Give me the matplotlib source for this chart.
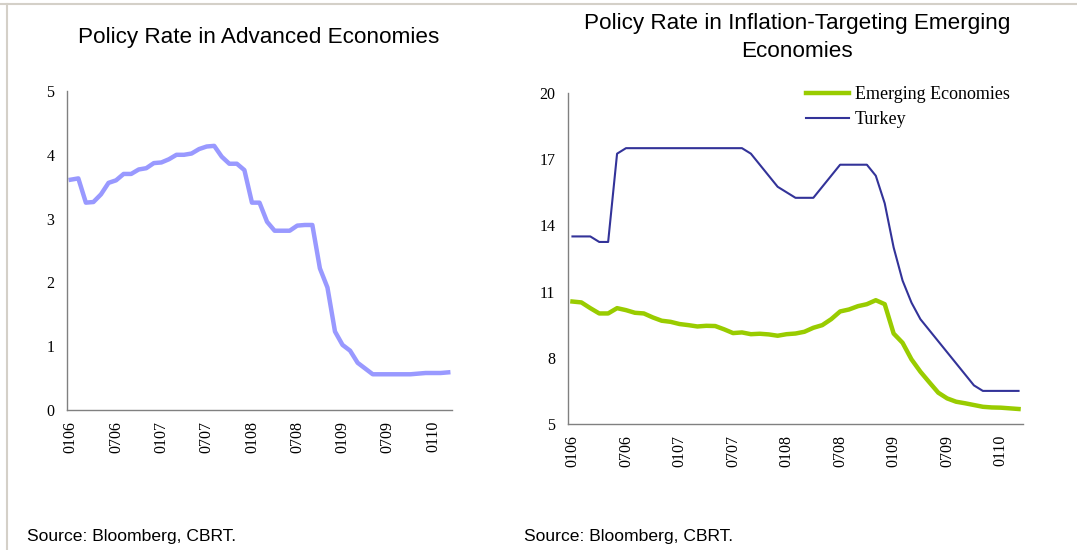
import matplotlib
matplotlib.use('Agg')
import matplotlib.pyplot as plt
from matplotlib.lines import Line2D
import numpy as np

# monthly data, Jan 2006 - Mar 2010
advanced = [3.61, 3.63, 3.25, 3.26, 3.38, 3.56, 3.60, 3.70, 3.70, 3.77,
            3.79, 3.87, 3.88, 3.93, 4.00, 4.00, 4.02, 4.09, 4.13, 4.14,
            3.97, 3.86, 3.86, 3.76, 3.25, 3.25, 2.95, 2.81, 2.81, 2.81,
            2.89, 2.90, 2.90, 2.22, 1.92, 1.23, 1.02, 0.93, 0.74, 0.65,
            0.56, 0.56, 0.56, 0.56, 0.56, 0.56, 0.57, 0.58, 0.58, 0.58, 0.59]

emerging = [10.55, 10.51, 10.25, 10.01, 10.01, 10.25, 10.16, 10.04, 10.01, 9.83,
            9.68, 9.63, 9.53, 9.48, 9.42, 9.45, 9.44, 9.29, 9.12, 9.15,
            9.07, 9.09, 9.06, 9.00, 9.07, 9.10, 9.18, 9.36, 9.48, 9.75,
            10.10, 10.19, 10.34, 10.43, 10.61, 10.43, 9.10, 8.68, 7.93, 7.37,
            6.89, 6.42, 6.16, 6.01, 5.94, 5.86, 5.78, 5.75, 5.74, 5.71, 5.68]

turkey = [13.5, 13.5, 13.5, 13.25, 13.25, 17.25, 17.5, 17.5, 17.5, 17.5,
          17.5, 17.5, 17.5, 17.5, 17.5, 17.5, 17.5, 17.5, 17.5, 17.5,
          17.25, 16.75, 16.25, 15.75, 15.5, 15.25, 15.25, 15.25, 15.75, 16.25,
          16.75, 16.75, 16.75, 16.75, 16.25, 15.0, 13.0, 11.5, 10.5, 9.75,
          9.25, 8.75, 8.25, 7.75, 7.25, 6.75, 6.5, 6.5, 6.5, 6.5, 6.5]

tick_labels = ['0106', '0706', '0107', '0707', '0108', '0708', '0109', '0709', '0110']
source = 'Source: Bloomberg, CBRT.'

W, H = 1077, 550
fig = plt.figure(figsize=(W / 100, H / 100), dpi=100)

serif = 'Liberation Serif'
sans = 'Liberation Sans'


def px_axes(x0, x1, y0, y1):
    # y0 = top, y1 = bottom, in pixels from the top
    return fig.add_axes([x0 / W, 1 - y1 / H, (x1 - x0) / W, (y1 - y0) / H])


def style(ax, ymin, ymax, step):
    x = np.arange(len(advanced))
    ax.set_xlim(-0.5, len(x) - 0.5)
    ax.set_ylim(ymin, ymax)
    ax.set_yticks(np.arange(ymin, ymax + 0.1, step))
    ax.set_xticks(x[::6])
    ax.set_xticklabels(tick_labels, rotation=90, fontfamily=serif, fontsize=11.5)
    for lab in ax.get_yticklabels():
        lab.set_fontfamily(serif)
        lab.set_fontsize(11.5)
    ax.tick_params(length=0, pad=8)
    ax.tick_params(axis='y', pad=9)
    for s in ['top', 'right']:
        ax.spines[s].set_visible(False)
    for s in ['left', 'bottom']:
        ax.spines[s].set_color('#808080')
        ax.spines[s].set_linewidth(1.0)


x = np.arange(len(advanced))

ax1 = px_axes(67, 452, 91, 410)
ax1.plot(x, advanced, color='#9999FF', lw=3.2, solid_joinstyle='round')
style(ax1, 0, 5, 1)

ax2 = px_axes(568, 1023, 93, 424)
ax2.plot(x, emerging, color='#99CC00', lw=3.2, label='Emerging Economies')
ax2.plot(x, turkey, color='#333399', lw=1.5, label='Turkey')
style(ax2, 5, 20, 3)
ax2.legend(loc='upper left', bbox_to_anchor=(806 / W, 1 - 86 / H),
           bbox_transform=fig.transFigure, frameon=False,
           prop={'family': serif, 'size': 13}, handlelength=2.4,
           handletextpad=0.3, labelspacing=0.45, borderpad=0, borderaxespad=0)

fig.text(259 / W, 1 - 38 / H, 'Policy Rate in Advanced Economies',
         ha='center', va='center', fontfamily=sans, fontsize=16.2)
fig.text(797 / W, 1 - 37.5 / H, 'Policy Rate in Inflation-Targeting Emerging\nEconomies',
         ha='center', va='center', fontfamily=sans, fontsize=16.2, linespacing=1.4)

fig.text(27 / W, 1 - 537 / H, source, ha='left', va='center', fontfamily=sans, fontsize=12.6)
fig.text(524 / W, 1 - 537 / H, source, ha='left', va='center', fontfamily=sans, fontsize=12.6)

# light grey frame at top and left
fig.add_artist(Line2D([0, 1], [1 - 3.8 / H, 1 - 3.8 / H], transform=fig.transFigure,
                      color='#D4D0C8', lw=1.5))
fig.add_artist(Line2D([6.5 / W, 6.5 / W], [0, 1 - 3.8 / H], transform=fig.transFigure,
                      color='#D4D0C8', lw=1.5))

fig.savefig('out.png', dpi=100)
